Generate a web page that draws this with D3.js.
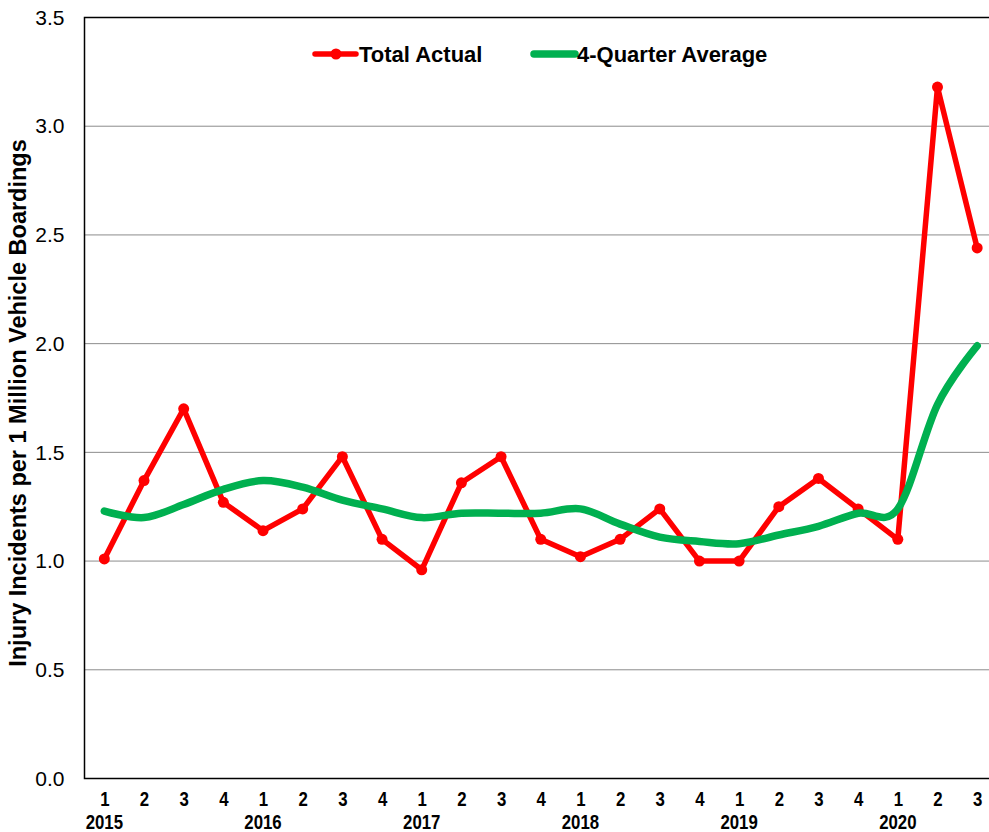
<!DOCTYPE html>
<html>
<head>
<meta charset="utf-8">
<script src="https://cdn.jsdelivr.net/npm/d3@7"></script>
<style>
  body { margin: 0; background: #fff; }
  svg { display: block; }
  .tick text { fill: #000; }
  .narrow { font-family: "Liberation Sans Narrow", "Arial Narrow", "Liberation Sans", Arial, sans-serif; font-weight: bold; }
</style>
</head>
<body>
<div id="chart"></div>
<script>
// quarters shown on the x axis
const periods = [
    "2015-1", "2015-2", "2015-3", "2015-4",
    "2016-1", "2016-2", "2016-3", "2016-4",
    "2017-1", "2017-2", "2017-3", "2017-4",
    "2018-1", "2018-2", "2018-3", "2018-4",
    "2019-1", "2019-2", "2019-3", "2019-4",
    "2020-1", "2020-2", "2020-3"
];
const years = ["2015", "2016", "2017", "2018", "2019", "2020"];

// injury incidents per 1M boardings
const totalActual = [1.01, 1.37, 1.70, 1.27, 1.14, 1.24, 1.48, 1.10, 0.96, 1.36, 1.48, 1.10,
    1.02, 1.10, 1.24, 1.00, 1.00, 1.25, 1.38, 1.24, 1.10, 3.18, 2.44];
const fourQuarterAvg = [1.23, 1.20, 1.26, 1.33, 1.37, 1.34, 1.28, 1.24, 1.20, 1.22, 1.22, 1.22,
    1.24, 1.17, 1.11, 1.09, 1.08, 1.12, 1.16, 1.22, 1.24, 1.72, 1.99];

const yTicks = [0, 0.5, 1.0, 1.5, 2.0, 2.5, 3.0, 3.5];

const width = 989, height = 832;
const plot = { left: 84.5, right: 997, top: 17.5, bottom: 778.5 };
const red = "#ff0000", green = "#00b050";
// no narrow font installed, so squeeze the bold one
const squeeze = "scale(0.8,1)";

const svg = d3.select("#chart").append("svg")
    .attr("width", width)
    .attr("height", height);

const x = d3.scalePoint().domain(periods).range([plot.left, plot.right]).padding(0.5);
const y = d3.scaleLinear().domain([0, 3.5]).range([plot.bottom, plot.top]);

// gridlines
svg.append("g").selectAll("line")
    .data(yTicks.filter(d => d > 0 && d < 3.5))
    .join("line")
    .attr("x1", plot.left).attr("x2", plot.right)
    .attr("y1", d => y(d)).attr("y2", d => y(d))
    .attr("stroke", "#8c8c8c")
    .attr("stroke-width", 1);

// plot frame
svg.append("rect")
    .attr("x", plot.left).attr("y", plot.top)
    .attr("width", plot.right - plot.left).attr("height", plot.bottom - plot.top)
    .attr("fill", "none")
    .attr("stroke", "#000")
    .attr("stroke-width", 1.5);

// y axis
const yAxis = svg.append("g")
    .attr("transform", `translate(${plot.left},0)`)
    .call(d3.axisLeft(y).tickValues(yTicks).tickSize(0).tickPadding(20).tickFormat(d3.format(".1f")));
yAxis.select(".domain").remove();
yAxis.selectAll("text")
    .attr("font-family", "Liberation Sans, Arial, sans-serif")
    .attr("font-size", 21);

// x axis (quarter numbers)
const xAxis = svg.append("g")
    .attr("transform", `translate(0,${plot.bottom})`)
    .call(d3.axisBottom(x).tickSize(0).tickPadding(13).tickFormat(d => d.split("-")[1]));
xAxis.select(".domain").remove();
xAxis.selectAll("text")
    .attr("class", "narrow")
    .attr("font-size", 21)
    .attr("transform", squeeze);

// year labels under first quarter
svg.append("g").selectAll("text")
    .data(years)
    .join("text")
    .attr("class", "narrow")
    .attr("transform", d => `translate(${x(d + "-1")},829) ${squeeze}`)
    .attr("text-anchor", "middle")
    .attr("font-size", 21)
    .text(d => d);

// y axis title
svg.append("text")
    .attr("transform", `translate(26,403) rotate(-90)`)
    .attr("text-anchor", "middle")
    .attr("font-family", "Liberation Sans, Arial, sans-serif")
    .attr("font-weight", "bold")
    .attr("font-size", 23.5)
    .text("Injury Incidents per 1 Million Vehicle Boardings");

// series
const actualLine = d3.line()
    .x((d, i) => x(periods[i]))
    .y(d => y(d));

const avgLine = d3.line()
    .x((d, i) => x(periods[i]))
    .y(d => y(d))
    .curve(d3.curveCardinal.tension(0));

svg.append("path")
    .datum(totalActual)
    .attr("d", actualLine)
    .attr("fill", "none")
    .attr("stroke", red)
    .attr("stroke-width", 5.5)
    .attr("stroke-linejoin", "round");

svg.append("g").selectAll("circle")
    .data(totalActual)
    .join("circle")
    .attr("cx", (d, i) => x(periods[i]))
    .attr("cy", d => y(d))
    .attr("r", 5.5)
    .attr("fill", red);

svg.append("path")
    .datum(fourQuarterAvg)
    .attr("d", avgLine)
    .attr("fill", "none")
    .attr("stroke", green)
    .attr("stroke-width", 7.5)
    .attr("stroke-linecap", "round");

// legend
const legend = svg.append("g")
    .attr("font-family", "Liberation Sans, Arial, sans-serif")
    .attr("font-weight", "bold")
    .attr("font-size", 22);

legend.append("line")
    .attr("x1", 315).attr("x2", 356).attr("y1", 54).attr("y2", 54)
    .attr("stroke", red).attr("stroke-width", 5.5).attr("stroke-linecap", "round");
legend.append("circle")
    .attr("cx", 336).attr("cy", 54).attr("r", 5.5).attr("fill", red);
legend.append("text")
    .attr("x", 359).attr("y", 62).text("Total Actual");

legend.append("line")
    .attr("x1", 534).attr("x2", 575).attr("y1", 54).attr("y2", 54)
    .attr("stroke", green).attr("stroke-width", 7.5).attr("stroke-linecap", "round");
legend.append("text")
    .attr("x", 577).attr("y", 62).text("4-Quarter Average");
</script>
</body>
</html>
